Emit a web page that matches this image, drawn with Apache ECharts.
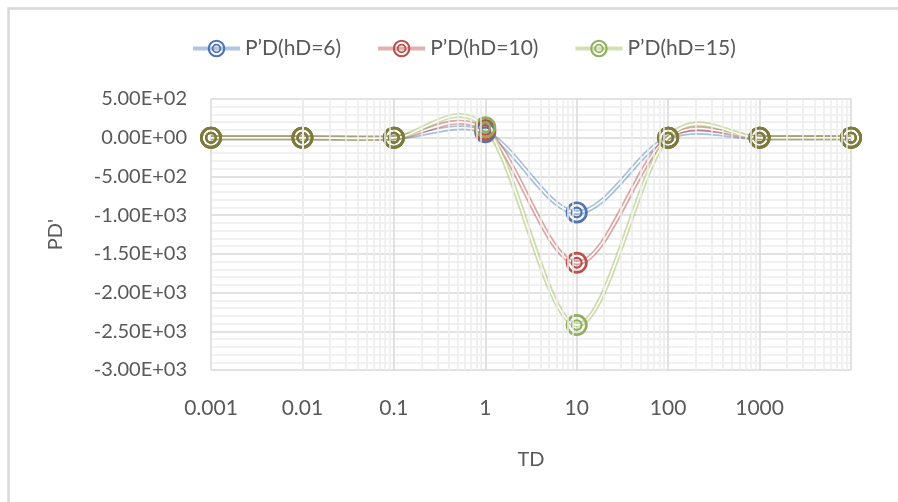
<!DOCTYPE html>
<html>
<head>
<meta charset="utf-8">
<script src="https://cdn.jsdelivr.net/npm/echarts@6/dist/echarts.min.js"></script>
<style>
  html, body { margin: 0; padding: 0; background: #ffffff; }
  #chart { width: 898px; height: 502px; }
</style>
</head>
<body>
<div id="chart"></div>
<script>
// ---- data ----
const tdValues = [0.001, 0.01, 0.1, 1, 10, 100, 1000, 10000];
const pdH6  = [0, 0, 0, 70, -965, 0, 0, 0];
const pdH10 = [0, 0, 0, 100, -1615, 0, 0, 0];
const pdH15 = [0, 0, 0, 135, -2420, 0, 0, 0];
const seriesNames = ['P’D(hD=6)', 'P’D(hD=10)', 'P’D(hD=15)'];
const xTickLabels = ['0.001', '0.01', '0.1', '1', '10', '100', '1000'];
const yTickLabels = ['-3.00E+03', '-2.50E+03', '-2.00E+03', '-1.50E+03', '-1.00E+03', '-5.00E+02', '0.00E+00', '5.00E+02'];
const xTitle = 'TD';
const yTitle = "PD'";

// ---- styling ----
const lineColors = ['#4F81BD', '#C0504D', '#9BBB59'];
const markerColors = ['#4F74B0', '#B9504C', '#8FAF5C'];
const overlapColor = '#7C7B3C';
const textColor = '#595959';
const fontFamily = 'Lato, "Liberation Sans", sans-serif';
const ringSymbol = 'path://M50,0 A50,50 0 1,1 49.99,0 Z M50,12 A38,38 0 1,0 50.01,12 Z ' +
                   'M50,23 A27,27 0 1,1 49.99,23 Z M50,33 A17,17 0 1,0 50.01,33 Z';

const allSeriesData = [pdH6, pdH10, pdH15];

// minor log gridlines (2..9 in each decade)
const minorX = [];
for (let e = -3; e < 4; e++) {
  for (let k = 2; k <= 9; k++) minorX.push(k * Math.pow(10, e));
}

// Excel-like smoothed line (Catmull-Rom bezier through the points, via the axis scales)
function smoothLineSeries(vals, color) {
  const n = tdValues.length;
  return {
    type: 'custom',
    coordinateSystem: 'cartesian2d',
    silent: true,
    z: 3,
    data: tdValues.map((t, j) => [t, vals[j]]),
    encode: { x: 0, y: 1 },
    renderItem: (params, api) => {
      if (params.dataIndex !== 0) return null;
      const P = k => {
        const c = Math.max(0, Math.min(n - 1, k));
        return api.coord([tdValues[c], vals[c]]);
      };
      const f = 1 / 6;
      const s = P(0);
      let d = 'M' + s[0] + ' ' + s[1];
      for (let j = 0; j < n - 1; j++) {
        const p0 = P(j - 1), p1 = P(j), p2 = P(j + 1), p3 = P(j + 2);
        const c1x = p1[0] + (p2[0] - p0[0]) * f, c1y = p1[1] + (p2[1] - p0[1]) * f;
        const c2x = p2[0] - (p3[0] - p1[0]) * f, c2y = p2[1] - (p3[1] - p1[1]) * f;
        d += ' C' + c1x + ' ' + c1y + ' ' + c2x + ' ' + c2y + ' ' + p2[0] + ' ' + p2[1];
      }
      return {
        type: 'group',
        children: [
          { type: 'path', shape: { pathData: d }, style: { fill: 'none', stroke: color, lineWidth: 5, opacity: 0.5 } },
          { type: 'path', shape: { pathData: d }, style: { fill: 'none', stroke: '#FFFFFF', lineWidth: 1.6 } }
        ]
      };
    }
  };
}

const series = [{
  type: 'line',
  data: [],
  silent: true,
  z: 1,
  markLine: {
    silent: true,
    symbol: ['none', 'none'],
    label: { show: false },
    animation: false,
    lineStyle: { color: '#EDEDED', type: 'solid', width: 1.5 },
    data: minorX.map(v => ({ xAxis: v }))
  }
}];

allSeriesData.forEach((vals, i) => {
  series.push(smoothLineSeries(vals, lineColors[i]));
  series.push({
    name: seriesNames[i],
    type: 'line',
    data: tdValues.map((t, j) => [t, vals[j]]),
    symbol: ringSymbol,
    symbolSize: 22,
    showAllSymbol: true,
    z: 3,
    lineStyle: { width: 0, opacity: 0 },
    itemStyle: {
      color: p => (p.value[1] === 0 ? overlapColor : markerColors[i])
    },
    emphasis: { disabled: true }
  });
});

const chart = echarts.init(document.getElementById('chart'), null, { renderer: 'canvas' });
chart.setOption({
  animation: false,
  backgroundColor: '#FFFFFF',
  textStyle: { fontFamily: fontFamily, color: textColor },
  graphic: [{
    type: 'rect',
    shape: { x: 8.5, y: 8.5, width: 1000, height: 1000 },
    style: { fill: 'none', stroke: '#D9D9D9', lineWidth: 2.5 },
    silent: true
  }],
  legend: {
    top: 33,
    left: 186,
    itemWidth: 47,
    itemHeight: 22,
    itemGap: 35,
    textStyle: { fontFamily: fontFamily, fontSize: 21, color: textColor, padding: [0, 0, 0, 0] },
    data: seriesNames.map((n, i) => ({
      name: n,
      itemStyle: { color: markerColors[i] },
      lineStyle: { color: lineColors[i], width: 4, opacity: 0.45 }
    }))
  },
  grid: { left: 211, right: 47, top: 99, bottom: 132 },
  xAxis: {
    type: 'log',
    logBase: 10,
    min: 0.001,
    max: 10000,
    name: xTitle,
    nameLocation: 'middle',
    nameGap: 80,
    nameTextStyle: { fontSize: 20, color: textColor, fontFamily: fontFamily },
    axisLine: { show: false },
    axisTick: { show: false },
    splitLine: { show: true, lineStyle: { color: '#D9D9D9', width: 1.5 } },
    axisLabel: {
      margin: 28,
      fontSize: 21,
      color: textColor,
      fontFamily: fontFamily,
      formatter: v => {
        const idx = Math.round(Math.log10(v)) + 3;
        return xTickLabels[idx] !== undefined ? xTickLabels[idx] : '';
      }
    }
  },
  yAxis: {
    type: 'value',
    min: -3000,
    max: 500,
    interval: 500,
    name: yTitle,
    nameLocation: 'middle',
    nameGap: 145,
    nameTextStyle: { fontSize: 20, color: textColor, fontFamily: fontFamily },
    axisLine: { show: false },
    axisTick: { show: false },
    minorTick: { show: false, splitNumber: 5 },
    minorSplitLine: { show: true, lineStyle: { color: '#EDEDED', width: 1.5 } },
    splitLine: { show: true, lineStyle: { color: '#D9D9D9', width: 1.5 } },
    axisLabel: {
      margin: 24,
      fontSize: 20,
      color: textColor,
      fontFamily: fontFamily,
      formatter: v => {
        const idx = Math.round((v + 3000) / 500);
        return yTickLabels[idx] !== undefined ? yTickLabels[idx] : '';
      }
    }
  },
  series: series
});
</script>
</body>
</html>
